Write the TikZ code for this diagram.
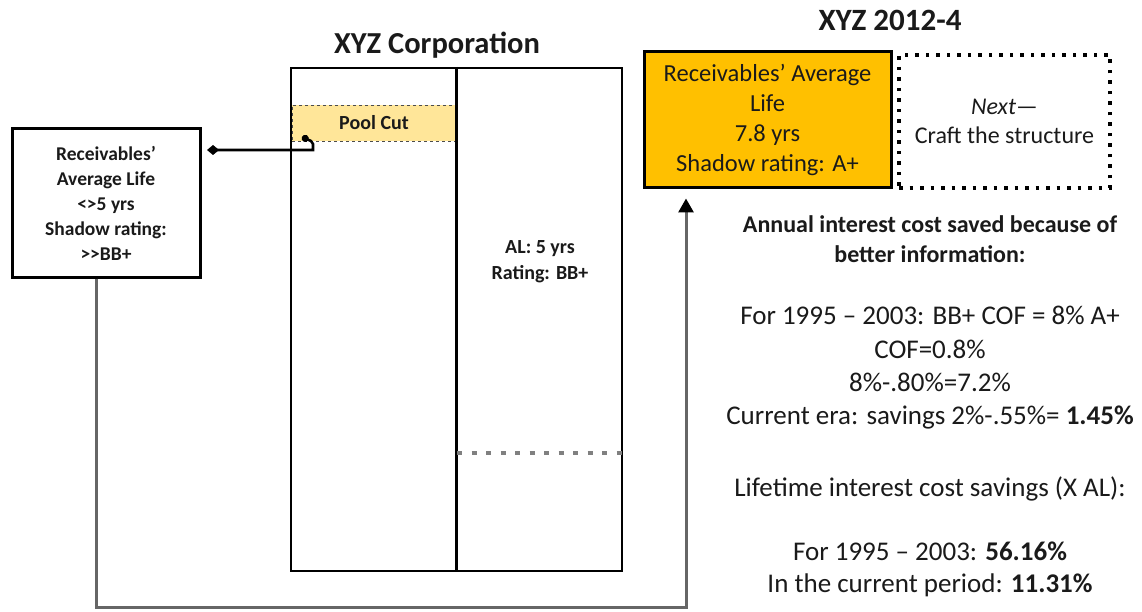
\documentclass[tikz,border=0pt]{standalone}
\usepackage{fontspec}
\setmainfont{Carlito}
\usetikzlibrary{arrows.meta}
\definecolor{orangefill}{HTML}{FFC000}
\definecolor{poolfill}{HTML}{FFE699}
\definecolor{ink}{HTML}{1A1A1A}
\tikzset{
  thickbox/.style={draw=black, line width=3pt, rectangle, align=center, text=ink, inner sep=0pt},
  dotbox/.style={draw=black, line width=3.5pt, dash pattern=on 3.5pt off 7pt, rectangle, align=center, text=ink, inner sep=0pt},
  plainline/.style={draw=black, line width=2.2pt},
  txt/.style={align=center, text=ink, inner sep=0pt},
  feed/.style={draw=black!60, line width=3pt, -{Triangle[length=14pt,width=15pt,color=black]}},
  link/.style={draw=black, line width=2.6pt, {Circle[length=7pt]}-{Diamond[length=12pt,width=10pt]}},
}
\begin{document}
\begin{tikzpicture}[x=1pt, y=-1pt]
\useasboundingbox (0,0) rectangle (1142,612);

% left information box
\node[thickbox, minimum width=188pt, minimum height=148pt,
      font=\fontsize{19.5}{25}\selectfont\bfseries] (lbox) at (106,203)
  {Receivables’\\Average Life\\<>5 yrs\\Shadow rating:\\>{}>BB+};

% corporation block
\node[txt, font=\fontsize{30.5}{32}\selectfont\bfseries] (corptitle) at (437,45) {XYZ Corporation};
\node[draw=black, line width=2.2pt, rectangle, minimum width=331pt, minimum height=503pt, inner sep=0pt] (corp) at (456.5,319.5) {};
\node[rectangle, fill=poolfill, draw=black!70, dashed, line width=0.6pt,
      minimum width=164pt, minimum height=36pt, inner sep=0pt, text=ink,
      font=\fontsize{20}{22}\selectfont\bfseries] (pool) at (374,123) {Pool Cut};
\draw[plainline] (corp.north) -- (corp.south);
\node[txt, font=\fontsize{20}{26}\selectfont\bfseries] (al) at (540,262) {AL: 5 yrs\\Rating: BB+};
\coordinate (cutL) at (457,453);
\coordinate (cutR) at (622,453);
\draw[draw=black!50, line width=4.5pt, dash pattern=on 5pt off 9.5pt] (cutL) -- (cutR);

% pool cut reference to the left box
\coordinate (pcdot) at (302,137);
\coordinate (hookA) at (311,141);
\coordinate (hookB) at (313,144);
\coordinate (hookC) at (313,150);
\coordinate (diam) at (207,150);
\draw[link] (pcdot) -- (hookA) -- (hookB) -- (hookC) -- (diam);

% securitisation block
\node[txt, font=\fontsize{31}{34}\selectfont\bfseries] (dealtitle) at (890,20) {XYZ 2012-4};
\node[thickbox, fill=orangefill, minimum width=247pt, minimum height=136pt,
      font=\fontsize{24.5}{30}\selectfont] (orange) at (767.5,120)
  {Receivables’ Average\\Life\\7.8 yrs\\Shadow rating: A+};
\node[dotbox, minimum width=211pt, minimum height=133pt,
      font=\fontsize{24}{29}\selectfont] (next) at (1004.5,121.5)
  {\textit{Next}—\\Craft the structure};

% feed from the left box into the deal
\coordinate (low) at (686,607);
\draw[feed, shorten >=9pt] ([xshift=-10pt]lbox.south) |- (low) -- ([xshift=-81.5pt]orange.south);

% savings commentary
\node[txt, font=\fontsize{24}{30}\selectfont\bfseries] (annual) at (930,239)
  {Annual interest cost saved because of\\better information:};
\node[txt, font=\fontsize{27}{33.3}\selectfont] (calc) at (930,368)
  {For 1995 – 2003: BB+ COF = 8\% A+\\COF=0.8\%\\8\%-.80\%=7.2\%\\Current era: savings 2\%-.55\%= \textbf{1.45\%}};
\node[txt, font=\fontsize{27}{32}\selectfont] (life) at (930,489)
  {Lifetime interest cost savings (X AL):};
\node[txt, font=\fontsize{27}{32}\selectfont] (result) at (930,569)
  {For 1995 – 2003: \textbf{56.16\%}\\In the current period: \textbf{11.31\%}};
\end{tikzpicture}
\end{document}
